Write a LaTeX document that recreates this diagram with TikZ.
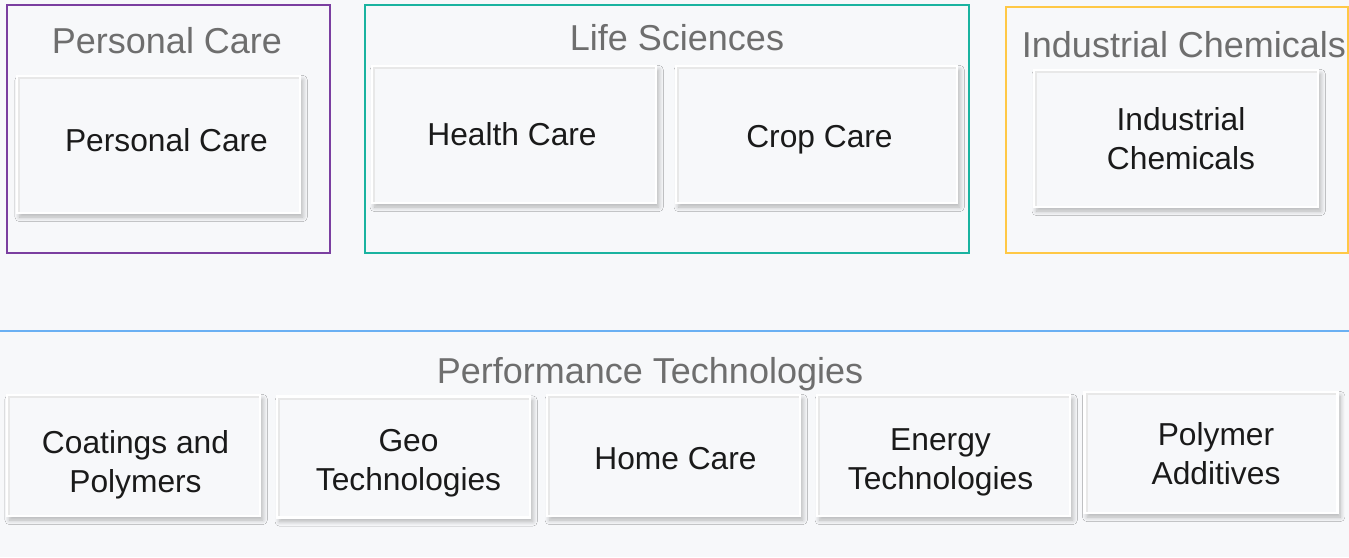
\documentclass[tikz,border=0pt]{standalone}
\usepackage{fontspec}
\setmainfont{Liberation Sans}
\usetikzlibrary{shadows.blur}

\definecolor{paper}{HTML}{F7F8FA}
\definecolor{headgray}{HTML}{6E6E6E}
\definecolor{inktext}{HTML}{1A1A1A}
\definecolor{pcpurple}{HTML}{7B3FA0}
\definecolor{lsteal}{HTML}{1AB3A0}
\definecolor{icyellow}{HTML}{FFC845}
\definecolor{ptblue}{HTML}{6AB0F3}

\begin{document}
\begin{tikzpicture}[
        x=0.75pt, y=-0.75pt,
        segment/.style={draw, line width=1.5pt, fill=paper, minimum height=186pt, inner sep=0pt},
        heading/.style={text=headgray, font=\fontsize{27}{32}\selectfont},
        unit/.style={draw=white, line width=2pt, fill=paper, inner sep=0pt,
            blur shadow={shadow xshift=2pt, shadow yshift=-3pt, shadow blur radius=3.5pt,
                shadow blur steps=10, shadow opacity=28},
            path picture={\draw[black!9, line width=5pt]
                (path picture bounding box.south west) |- (path picture bounding box.north east);}},
        unittext/.style={align=center, inner sep=0pt, text=inktext,
            font=\fontsize{23.8}{29.25}\selectfont},
        topunit/.style={unit, minimum height=102.75pt},
        lowunit/.style={unit, minimum width=189.75pt, minimum height=90.75pt}
    ]
    \useasboundingbox[fill=paper] (0,0) rectangle (1349,557);

    % three segments on top
    \node[segment, draw=pcpurple, minimum width=242.25pt] (pc) at (168.5,129) {};
    \node[segment, draw=lsteal, minimum width=453pt] (ls) at (667,129) {};
    \node[segment, draw=icyellow, minimum width=256.5pt, minimum height=184.5pt] (ic) at (1176.5,130) {};

    \node[heading] (pchead) at (167,41) {Personal Care};
    \node[heading] (lshead) at (677,38) {Life Sciences};
    \node[heading] (ichead) at (1184,45) {Industrial Chemicals};

    \node[topunit, minimum width=212.25pt,
        label={[unittext, name=personaltext, xshift=6pt, yshift=3pt]center:Personal Care}]
        (personal) at (158.5,144.5) {};
    \node[topunit, minimum width=213pt,
        label={[unittext, name=healthtext, xshift=-1.5pt]center:Health Care}]
        (health) at (514,134.5) {};
    \node[topunit, minimum width=210.75pt,
        label={[unittext, name=croptext, xshift=2.25pt, yshift=-3.75pt]center:Crop Care}]
        (crop) at (816.5,134.5) {};
    \node[topunit, minimum width=213pt,
        label={[unittext, name=industrialtext, xshift=3.75pt]center:Industrial\\Chemicals}]
        (industrial) at (1176,138.5) {};

    % performance technologies row
    \coordinate (ptleft) at (0,331);
    \coordinate (ptright) at (1349,331);
    \draw[ptblue, line width=1.6pt] (ptleft) -- (ptright);
    \node[heading] (pthead) at (650,374) {Performance Technologies};

    \node[lowunit, label={[unittext, name=coatingstext, xshift=1.5pt, yshift=-6.75pt]center:Coatings and\\Polymers}]
        (coatings) at (133.5,455.5) {};
    \node[lowunit, label={[unittext, name=geotext, xshift=3.75pt, yshift=-4.5pt]center:Geo\\Technologies}]
        (geo) at (403.5,457) {};
    \node[lowunit, label={[unittext, name=hometext, xshift=1.5pt, yshift=-2.25pt]center:Home Care}]
        (home) at (673.5,455.5) {};
    \node[lowunit, label={[unittext, name=energytext, xshift=-2.25pt, yshift=-5.25pt]center:Energy\\Technologies}]
        (energy) at (943.5,455.5) {};
    \node[lowunit, label={[unittext, name=additivestext, xshift=3.75pt, yshift=-0.75pt]center:Polymer\\Additives}]
        (additives) at (1211,452.5) {};
\end{tikzpicture}
\end{document}
